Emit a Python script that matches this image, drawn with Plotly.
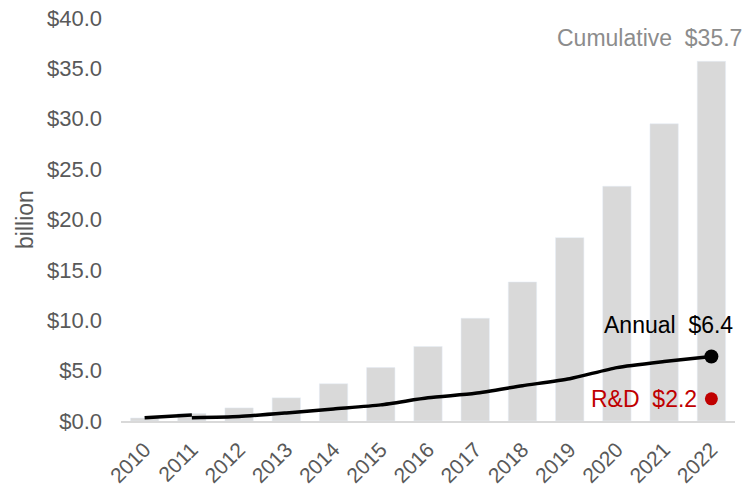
import plotly.graph_objects as go

years = [2010, 2011, 2012, 2013, 2014, 2015, 2016, 2017, 2018, 2019, 2020, 2021, 2022]
cumulative = [0.3, 0.75, 1.3, 2.3, 3.7, 5.3, 7.4, 10.2, 13.8, 18.2, 23.3, 29.5, 35.7]
# annual line: first segment 2010-2011, then restarts at 2011
annual_a_x = [2010, 2011]
annual_a = [0.33, 0.6]
annual_b_x = [2011, 2012, 2013, 2014, 2015, 2016, 2017, 2018, 2019, 2020, 2021, 2022]
annual_b = [0.33, 0.45, 0.8, 1.2, 1.6, 2.3, 2.75, 3.5, 4.2, 5.3, 5.9, 6.4]
rd_year = 2022
rd_value = 2.2
yticks = [0, 5, 10, 15, 20, 25, 30, 35, 40]

FONT = "Liberation Sans, Arial, sans-serif"
GRAY = "#595959"

fig = go.Figure()
fig.add_trace(go.Bar(x=years, y=cumulative, marker_color="#d9d9d9", showlegend=False, hoverinfo="skip"))
fig.add_trace(go.Scatter(x=annual_a_x, y=annual_a, mode="lines", line=dict(color="black", width=3.5),
                         showlegend=False))
fig.add_trace(go.Scatter(x=annual_b_x, y=annual_b, mode="lines", line=dict(color="black", width=3.5, shape="spline", smoothing=0.6),
                         showlegend=False))
fig.add_trace(go.Scatter(x=[annual_b_x[-1]], y=[annual_b[-1]], mode="markers",
                         marker=dict(color="black", size=14), showlegend=False))
fig.add_trace(go.Scatter(x=[rd_year], y=[rd_value], mode="markers",
                         marker=dict(color="#c00000", size=13), showlegend=False))

fig.add_annotation(x=years[-1], y=38.0, text=f"Cumulative  ${cumulative[-1]:.1f}", showarrow=False,
                   xanchor="right", yanchor="middle", xshift=33,
                   font=dict(family=FONT, size=23, color="#8c8c8c"))
fig.add_annotation(x=years[-1], y=9.5, text=f"Annual  ${annual_b[-1]:.1f}", showarrow=False,
                   xanchor="right", yanchor="middle", xshift=24,
                   font=dict(family=FONT, size=23, color="black"))
fig.add_annotation(x=rd_year, y=rd_value, text=f"R&D  ${rd_value:.1f}", showarrow=False,
                   xanchor="right", yanchor="middle", xshift=-12,
                   font=dict(family=FONT, size=23, color="#c00000"))

fig.update_layout(
    width=743, height=490,
    margin=dict(l=121, r=8, t=18, b=69),
    plot_bgcolor="white", paper_bgcolor="white",
    bargap=0.4,
    font=dict(family=FONT, color=GRAY),
)
fig.update_xaxes(range=[years[0] - 0.5, years[-1] + 0.5], tickvals=years, ticktext=[str(y) for y in years],
                 tickangle=-45, tickfont=dict(size=21, color=GRAY), automargin=False,
                 showgrid=False, zeroline=False, showline=True, linecolor="#d9d9d9", linewidth=2,
                 ticks="", ticklabelstandoff=6)
fig.update_yaxes(range=[0, 40], tickvals=yticks, tickformat="$.1f", tickfont=dict(size=22, color=GRAY),
                 showgrid=False, zeroline=False, showline=False, ticks="", automargin=False,
                 ticklabelstandoff=18,
                 title=dict(text="billion", font=dict(size=23, color=GRAY), standoff=6))

fig.write_html("out.html")
